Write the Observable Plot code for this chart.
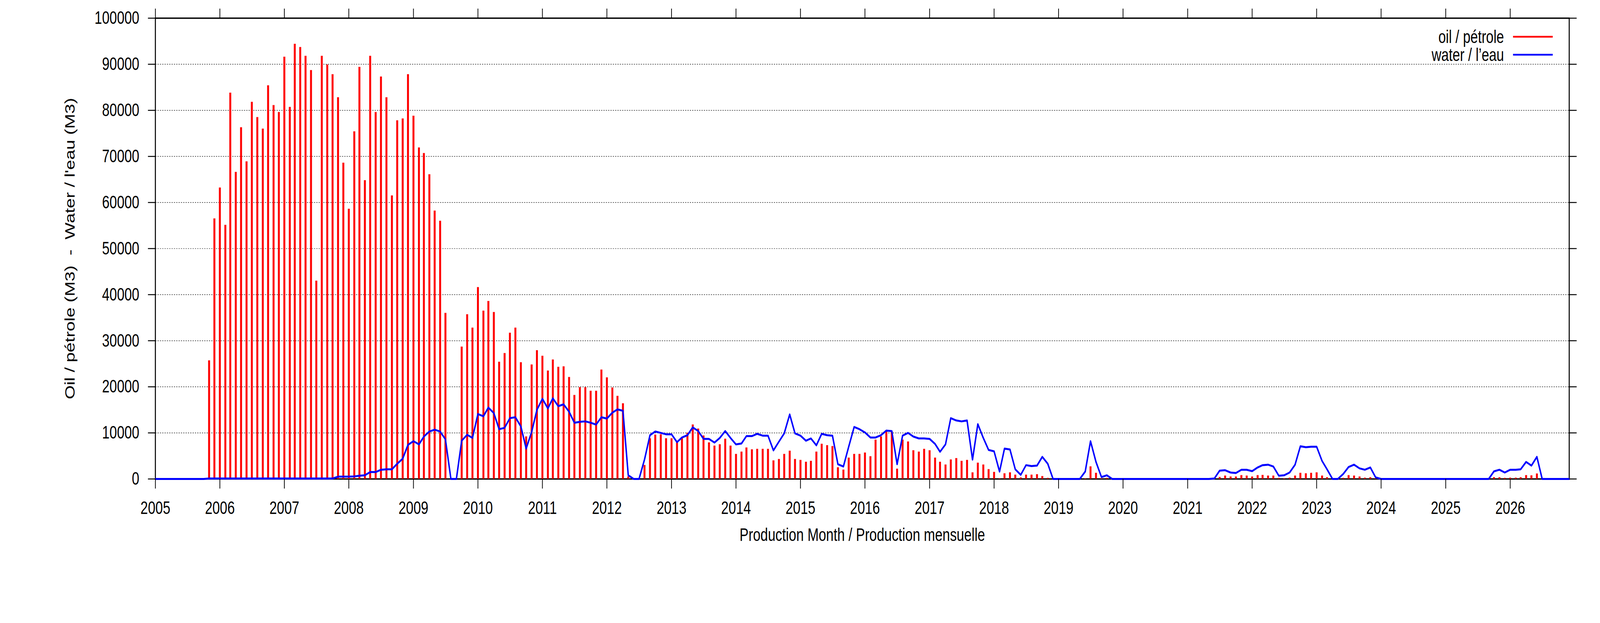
<!DOCTYPE html>
<html><head><meta charset="utf-8">
<script src="https://cdn.jsdelivr.net/npm/d3@7"></script>
<script src="https://cdn.jsdelivr.net/npm/@observablehq/plot@0.6"></script>
<style>
html,body{margin:0;padding:0;background:#fff;overflow:hidden;width:100vw;height:100vh;}
#wrap{width:100vw;height:100vh;}
#wrap svg{display:block;width:100vw !important;height:100vh !important;max-width:none !important;}
</style></head><body><div id="wrap"></div>
<script>
// ---- data (monthly, starting January 2005) ----
const startMonth = "2005-01";
const yearTicks = [2005,2006,2007,2008,2009,2010,2011,2012,2013,2014,2015,2016,2017,2018,2019,2020,2021,2022,2023,2024,2025,2026];
const yTicks = [0,10000,20000,30000,40000,50000,60000,70000,80000,90000,100000];
const seriesNames = ["oil / pétrole", "water / l’eau"];
const seriesColors = ["#ff0000", "#0000ff"];
const xLabel = "Production Month / Production mensuelle";
const yLabel = "Oil / pétrole (M3) \u00a0-\u00a0 Water / l'eau (M3)";

const oil = [
  0,0,0,0,0,0,0,0,0,0,25700,56500,                                   // 2005
  63200,55100,83800,66600,76300,68900,81800,78500,76000,85400,81100,79600, // 2006
  91600,80700,94400,93700,91800,88700,43000,91800,89900,87800,82800,68600, // 2007
  58600,75400,89400,64800,91800,79600,87300,82800,61500,77800,78200,87800, // 2008
  78800,71900,70700,66100,58200,56000,36000,0,0,28700,35700,32800,       // 2009
  41600,36500,38600,36200,25400,27300,31700,32800,25300,9200,24800,27900,  // 2010
  26700,23500,25900,24300,24400,22100,18200,19900,19900,19100,19100,23700, // 2011
  22000,19800,18000,16400,500,0,0,3000,8800,9600,9650,8800,              // 2012
  8800,7900,8900,10000,11800,10900,9400,7900,7200,7500,8700,7200,        // 2013
  5400,5900,6800,6400,6500,6500,6500,4000,4300,5400,6100,4300,           // 2014
  4100,3700,3900,5900,7600,7300,7100,2500,2000,4600,5400,5400,           // 2015
  5700,4900,8500,9200,10300,10200,2200,8500,8100,6200,5900,6500,         // 2016
  6200,4600,3700,3100,4200,4500,3900,4100,1400,3500,3100,2100,           // 2017
  1500,100,1200,1400,900,300,900,900,1000,600,200,0,                     // 2018
  0,0,0,0,0,100,2700,1300,100,200,0,0,                                   // 2019
  0,0,0,0,0,0,0,0,0,0,0,0,                                               // 2020
  0,0,0,0,0,100,400,700,500,500,800,700,                                 // 2021
  500,800,850,700,700,200,100,250,700,1300,1200,1300,                    // 2022
  1400,700,350,0,0,200,800,700,500,250,350,100,                          // 2023
  0,0,0,0,0,0,0,0,0,0,0,0,                                               // 2024
  0,0,0,0,0,0,0,0,0,350,350,200,                                         // 2025
  250,250,350,800,750,1150,0,0,0,0,0,0                                   // 2026
];

const water = [
  0,0,0,0,0,0,0,0,0,0,100,100,                                           // 2005
  100,100,100,100,100,100,100,100,100,100,100,100,                       // 2006
  100,100,100,100,100,100,100,100,100,100,500,500,                       // 2007
  500,560,700,800,1500,1500,2000,2100,2100,3300,4400,7400,               // 2008
  8200,7500,9200,10300,10700,10300,8600,0,0,8300,9600,8900,              // 2009
  14100,13600,15500,14300,10800,11100,13200,13400,11400,6600,10200,15000, // 2010
  17400,15300,17500,15800,16200,14600,12200,12400,12500,12200,11800,13400, // 2011
  13100,14400,15100,14800,800,0,0,4200,9500,10300,10000,9700,           // 2012
  9700,8000,9000,9500,11200,10400,8700,8700,7900,8900,10400,8900,        // 2013
  7500,7700,9300,9300,9800,9400,9400,6200,8100,9900,14000,9900,          // 2014
  9400,8300,8800,7300,9800,9500,9400,3200,2700,7000,11300,10800,         // 2015
  10100,9000,9000,9500,10500,10400,3200,9400,10000,9200,8800,8800,       // 2016
  8700,7600,5900,7500,13200,12700,12500,12700,4200,11900,8900,6300,      // 2017
  6000,1600,6600,6400,2100,900,3000,2800,2900,4800,3300,0,               // 2018
  0,0,0,0,0,1600,8200,3700,400,800,0,0,                                  // 2019
  0,0,0,0,0,0,0,0,0,0,0,0,                                               // 2020
  0,0,0,0,0,100,1800,1900,1400,1300,2000,2000,                           // 2021
  1700,2500,3000,3100,2700,700,800,1400,3100,7100,6900,7000,             // 2022
  7000,3900,2100,0,0,1100,2600,3100,2300,2000,2500,350,                  // 2023
  0,0,0,0,0,0,0,0,0,0,0,0,                                               // 2024
  0,0,0,0,0,0,0,0,0,1650,2000,1400,                                      // 2025
  2000,2000,2100,3700,2900,4800,0,0,0,0,0,0                              // 2026
];

// ---- build chart ----
const t0 = d3.utcParse("%Y-%m")(startMonth);
const rows = oil.map((v, i) => ({date: d3.utcMonth.offset(t0, i), oil: v, water: water[i]}));
const yearDates = yearTicks.map(y => new Date(Date.UTC(y, 0, 1)));
const FONT = '"Liberation Sans", Arial, Helvetica, sans-serif';
const W = 5483, H = 1594;

const chart = Plot.plot({
  width: W, height: H,
  marginLeft: 532, marginRight: 106, marginTop: 46, marginBottom: 369,
  style: {fontFamily: FONT, fontSize: "46px", background: "#fff", color: "#000", overflow: "visible"},
  x: {type: "utc", domain: [t0, d3.utcMonth.offset(t0, oil.length - 1)]},
  y: {domain: [yTicks[0], yTicks[yTicks.length - 1]]},
  marks: [
    Plot.gridY(yTicks.slice(1, -1), {stroke: "#000", strokeOpacity: 1, strokeWidth: 1.2, strokeDasharray: "4,4"}),
    Plot.frame({stroke: "#000", strokeWidth: 3.5}),
    Plot.ruleX(rows.filter(d => d.oil > 0), {x: "date", y1: 0, y2: "oil", stroke: seriesColors[0], strokeWidth: 6.7}),
    Plot.line(rows, {x: "date", y: "water", stroke: seriesColors[1], strokeWidth: 5}),
    Plot.axisY(yTicks, {anchor: "left", tickSize: 25, tickPadding: 30, tickFormat: d3.format("d"), fontSize: 46, strokeWidth: 2.5, label: null}),
    Plot.axisY(yTicks, {anchor: "right", tickSize: 25, tickFormat: () => "", strokeWidth: 2.5, label: null}),
    Plot.axisX(yearDates, {anchor: "bottom", tickSize: 25, tickPadding: 32, tickFormat: d3.utcFormat("%Y"), fontSize: 46, strokeWidth: 2.5, label: null}),
    Plot.axisX(yearDates, {anchor: "top", tickSize: 25, tickFormat: () => "", strokeWidth: 2.5, label: null}),
    Plot.text([xLabel], {text: d => d, frameAnchor: "bottom", dy: 144, lineAnchor: "middle", textAnchor: "middle", fontSize: 46, fill: "#000"}),
    Plot.text([yLabel], {text: d => d, frameAnchor: "left", dx: -292, rotate: -90, lineAnchor: "middle", textAnchor: "middle", fontSize: 46, fill: "#000"})
  ]
});

// scale the drawing to the whole window, whatever its size
chart.setAttribute("viewBox", `0 0 ${W} ${H}`);
chart.setAttribute("preserveAspectRatio", "none");
document.getElementById("wrap").appendChild(chart);

// legend (inside the plot area, top right), drawn in the SVG's own coordinates
const legendRows = [{name: seriesNames[0], color: seriesColors[0], cy: 94}, {name: seriesNames[1], color: seriesColors[1], cy: 140}];
const g = d3.select(chart).append("g").attr("font-family", FONT).attr("font-size", 46);
for (const r of legendRows) {
  g.append("text").attr("x", 5154).attr("y", r.cy).attr("dy", "0.35em").attr("text-anchor", "end").attr("fill", "#000").text(r.name);
  g.append("line").attr("x1", 5185).attr("x2", 5321).attr("y1", r.cy).attr("y2", r.cy).attr("stroke", r.color).attr("stroke-width", 4.5);
}
</script>
</body></html>
